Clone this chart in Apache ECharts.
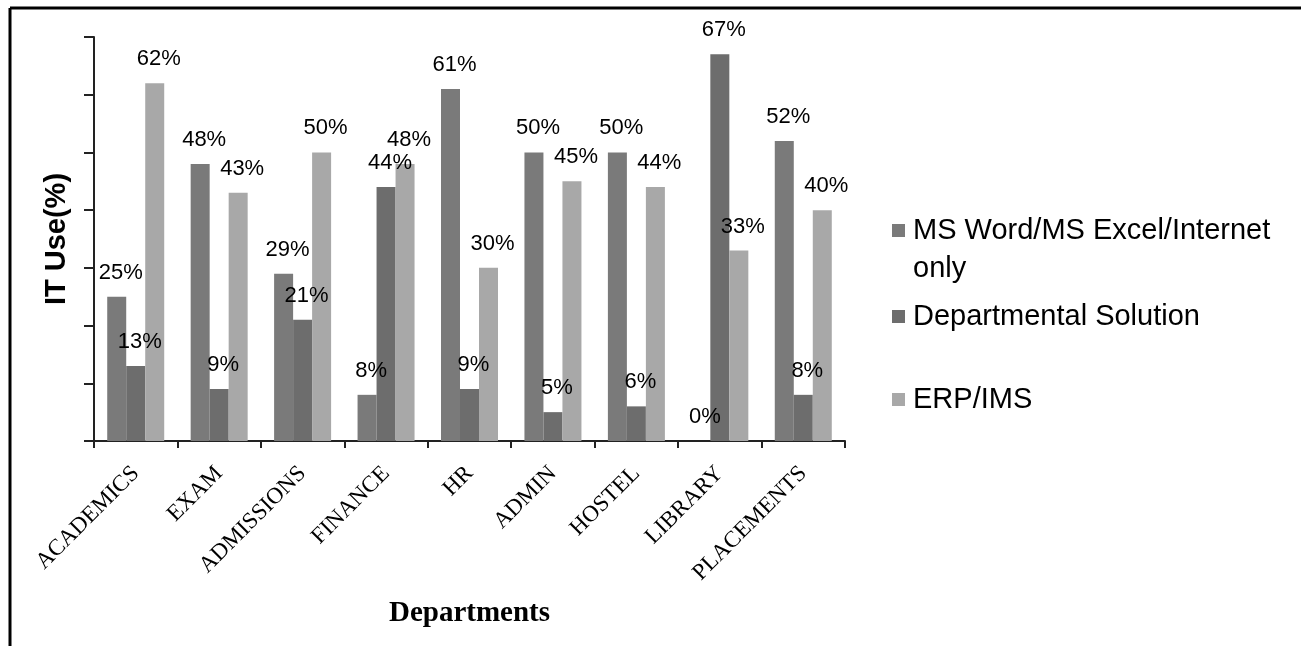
<!DOCTYPE html>
<html>
<head>
<meta charset="utf-8">
<script src="https://cdn.jsdelivr.net/npm/echarts@6/dist/echarts.min.js"></script>
<style>
html, body { margin: 0; padding: 0; background: #fff; }
#main { width: 1301px; height: 646px; }
</style>
</head>
<body>
<div id="main"></div>
<script>
// departments on the x axis
var departments = ['ACADEMICS', 'EXAM', 'ADMISSIONS', 'FINANCE', 'HR', 'ADMIN', 'HOSTEL', 'LIBRARY', 'PLACEMENTS'];
var seriesNames = ['MS Word/MS Excel/Internet only', 'Departmental Solution', 'ERP/IMS'];

// IT use in %
var msOffice = [25, 48, 29, 8, 61, 50, 50, 0, 52];
var deptSolution = [13, 9, 21, 44, 9, 5, 6, 67, 8];
var erpIms = [62, 43, 50, 48, 30, 45, 44, 33, 40];

var colors = ['#7a7a7a', '#6d6d6d', '#a8a8a8'];

var chart = echarts.init(document.getElementById('main'));

var barLabel = {
	show: true,
	position: 'top',
	distance: 13,
	offset: [4, 0],
	formatter: '{c}%',
	color: '#000',
	fontFamily: 'Liberation Sans, Arial',
	fontSize: 22
};

function makeBar(i, data) {
	return {
		name: seriesNames[i],
		type: 'bar',
		data: data,
		barWidth: 19,
		barGap: 0,
		itemStyle: { color: colors[i] },
		label: barLabel
	};
}

var legendText = {
	color: '#000',
	fontFamily: 'Liberation Sans, Arial',
	fontSize: 29,
	padding: [0, 0, 0, 3]
};

function makeLegend(i, top, fmt) {
	var lg = {
		data: [seriesNames[i]],
		left: 892, top: top,
		padding: 0,
		itemWidth: 13, itemHeight: 13,
		icon: 'rect',
		textStyle: legendText
	};
	if (fmt) lg.formatter = fmt;
	return lg;
}

var option = {
	animation: false,
	backgroundColor: '#fff',
	grid: { left: 94, right: 456, top: 37, bottom: 205 },
	legend: [
		makeLegend(0, 216, function () { return 'MS Word/MS Excel/Internet'; }),
		makeLegend(1, 302, null),
		makeLegend(2, 385, null)
	],
	xAxis: {
		type: 'category',
		data: departments,
		name: 'Departments',
		nameLocation: 'middle',
		nameGap: 158,
		nameTextStyle: {
			color: '#000',
			fontFamily: 'Liberation Serif, Times New Roman',
			fontWeight: 'bold',
			fontSize: 29
		},
		axisLine: { lineStyle: { color: '#222', width: 2 } },
		axisTick: { show: true, length: 7, lineStyle: { color: '#222', width: 2 } },
		axisLabel: {
			interval: 0,
			rotate: 45,
			margin: 29,
			color: '#000',
			fontFamily: 'Liberation Serif, Times New Roman',
			fontSize: 23
		}
	},
	yAxis: {
		type: 'value',
		min: 0,
		max: 70,
		interval: 10,
		name: 'IT Use(%)',
		nameLocation: 'middle',
		nameGap: 23,
		nameTextStyle: {
			color: '#000',
			fontFamily: 'Liberation Sans, Arial',
			fontWeight: 'bold',
			fontSize: 29
		},
		axisLine: { show: true, lineStyle: { color: '#222', width: 2 } },
		axisTick: { show: true, length: 10, lineStyle: { color: '#222', width: 2 } },
		axisLabel: { show: false },
		splitLine: { show: false }
	},
	graphic: [
		{ type: 'line', shape: { x1: 10, y1: 8, x2: 1301, y2: 8 }, style: { stroke: '#000', lineWidth: 3 } },
		{ type: 'line', shape: { x1: 10, y1: 8, x2: 10, y2: 646 }, style: { stroke: '#000', lineWidth: 3 } },
		// second line of the first legend entry
		{
			type: 'text', left: 913, top: 254,
			style: { text: 'only', fill: '#000', font: '29px "Liberation Sans", Arial' }
		}
	],
	series: [
		makeBar(0, msOffice),
		makeBar(1, deptSolution),
		makeBar(2, erpIms)
	]
};

chart.setOption(option);
</script>
</body>
</html>
